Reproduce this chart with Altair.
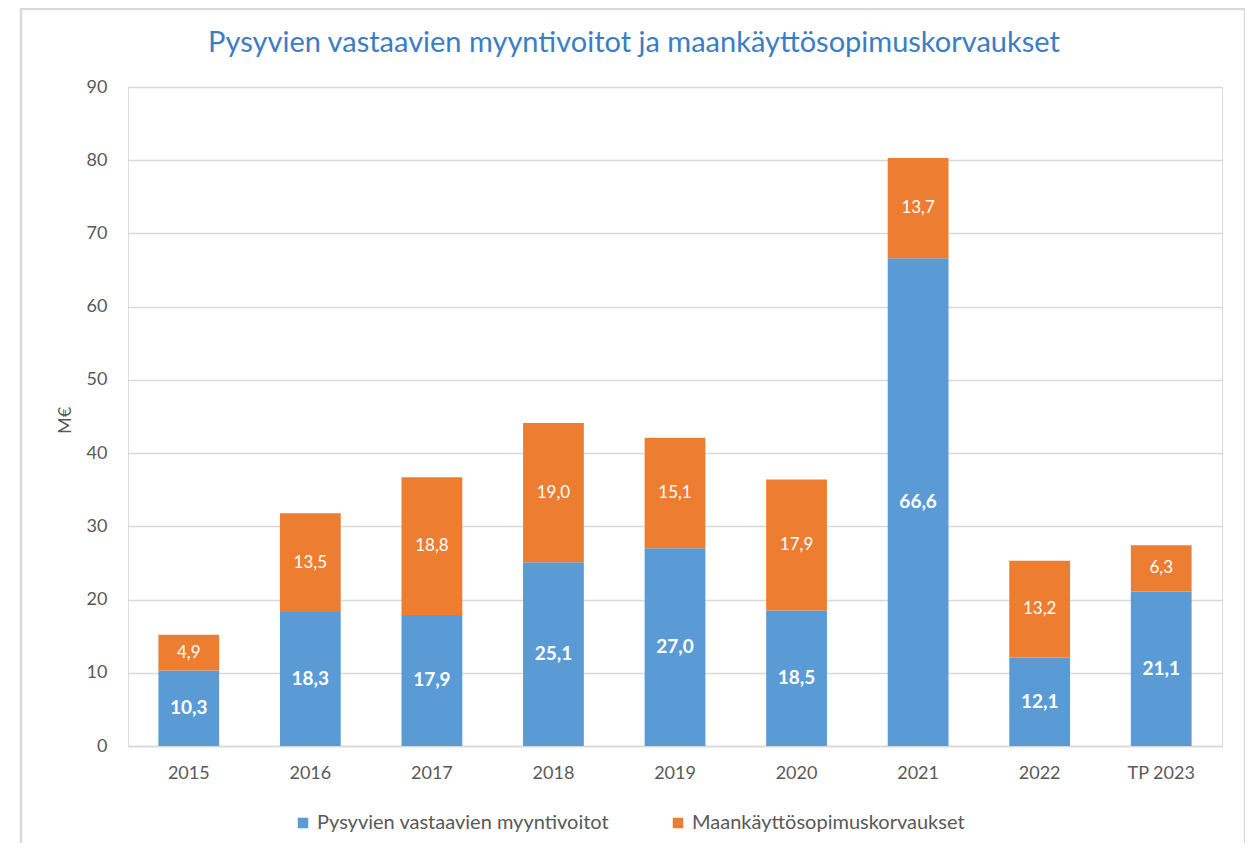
import altair as alt
import pandas as pd

years = ["2015", "2016", "2017", "2018", "2019", "2020", "2021", "2022", "TP 2023"]
sales_gains = [10.3, 18.3, 17.9, 25.1, 27.0, 18.5, 66.6, 12.1, 21.1]
land_use = [4.9, 13.5, 18.8, 19.0, 15.1, 17.9, 13.7, 13.2, 6.3]
series = ["Pysyvien vastaavien myyntivoitot", "Maankäyttösopimuskorvaukset"]
colors = ["#5B9BD5", "#ED7D31"]
title_text = "Pysyvien vastaavien myyntivoitot ja maankäyttösopimuskorvaukset"
y_ticks = [0, 10, 20, 30, 40, 50, 60, 70, 80, 90]

rows = []
for i, yr in enumerate(years):
    rows.append({"year": yr, "series": series[0], "value": sales_gains[i], "order": 0})
    rows.append({"year": yr, "series": series[1], "value": land_use[i], "order": 1})
df = pd.DataFrame(rows)
df["label"] = df["value"].map(lambda v: f"{v:.1f}".replace(".", ","))

FONT = "Lato"
GRAY = "#595959"

base = alt.Chart(df).transform_stack(
    stack="value", groupby=["year"], as_=["y0", "y1"], sort=[alt.SortField("order")]
).transform_calculate(mid="(datum.y0 + datum.y1) / 2")

xenc = alt.X(
    "year:N", sort=years,
    scale=alt.Scale(paddingInner=0.5, paddingOuter=0.25),
    axis=alt.Axis(title=None, labelAngle=0, labelFont=FONT, labelFontSize=18,
                  labelColor=GRAY, labelPadding=18, ticks=False,
                  domainColor="#d9d9d9", domainWidth=1.5),
)
yscale = alt.Scale(domain=[0, 90], nice=False)

bars = base.mark_bar().encode(
    x=xenc,
    y=alt.Y("y0:Q", scale=yscale,
            axis=alt.Axis(title="M€", values=y_ticks, labelFont=FONT, labelFontSize=18,
                          labelColor=GRAY, labelPadding=21, ticks=False, domain=False,
                          gridColor="#d9d9d9", gridWidth=1.5,
                          titleFont=FONT, titleFontSize=18, titleFontWeight="normal",
                          titleColor=GRAY, titleX=-63, titleY=333, titleAngle=-90,
                          titleAlign="center", titleBaseline="middle")),
    y2="y1:Q",
    color=alt.Color("series:N", sort=series, scale=alt.Scale(domain=series, range=colors),
                    legend=alt.Legend(title=None, orient="none", legendX=165, legendY=726,
                                      direction="horizontal", symbolType="square",
                                      symbolSize=110, symbolStrokeWidth=0,
                                      labelFont=FONT, labelFontSize=20, labelColor=GRAY,
                                      columnPadding=58, labelLimit=500)),
)

text_blue = base.transform_filter(alt.datum.order == 0).mark_text(
    color="white", font=FONT, fontSize=19, fontWeight="bold", baseline="middle"
).encode(x=alt.X("year:N", sort=years), y=alt.Y("mid:Q", scale=yscale), text="label:N")

text_orange = base.transform_filter(alt.datum.order == 1).mark_text(
    color="white", font=FONT, fontSize=17, baseline="middle"
).encode(x=alt.X("year:N", sort=years), y=alt.Y("mid:Q", scale=yscale), text="label:N")

decor = alt.Data(values=[{}])
frame = alt.Chart(decor).mark_rect(
    fill=None, stroke="#d9d9d9", strokeWidth=2.5
).encode(x=alt.value(-107), x2=alt.value(1117), y=alt.value(-78), y2=alt.value(770))

title = alt.Chart(decor).mark_text(
    font=FONT, fontSize=29, color="#3B7DC4", align="center", baseline="alphabetic"
).encode(x=alt.value(506), y=alt.value(-35), text=alt.value(title_text))

chart = alt.layer(bars, text_blue, text_orange, frame, title).properties(
    width=1094, height=659,
    autosize=alt.AutoSizeParams(type="none"),
    padding={"left": 120, "top": 79, "right": 23, "bottom": 97},
).configure_view(stroke=None).configure(background="white")

chart.save("out.html", embed_options={"renderer": "svg", "actions": False})
